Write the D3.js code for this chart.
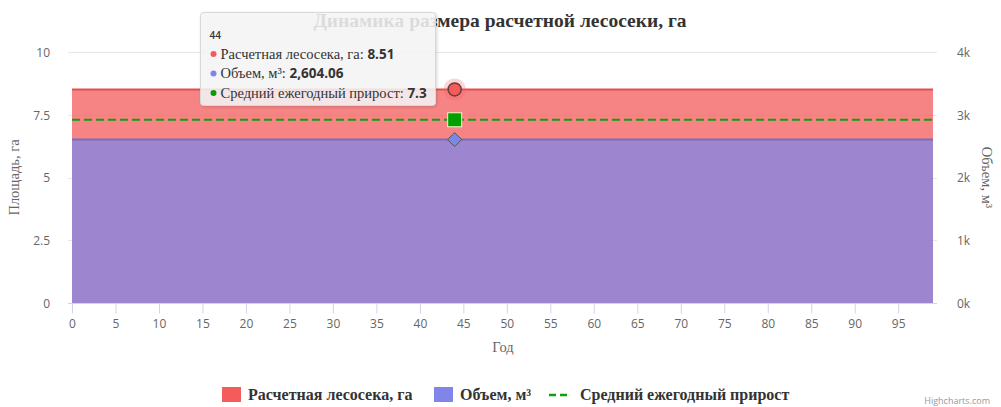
<!DOCTYPE html>
<html>
<head>
<meta charset="utf-8">
<script src="https://cdn.jsdelivr.net/npm/d3@7"></script>
<style>
  html, body { margin: 0; padding: 0; background: #fff; }
  svg { display: block; }
</style>
</head>
<body>
<div id="chart"></div>
<script>
// ---------------- DATA ----------------
const title = "Динамика размера расчетной лесосеки, га";
const years = [
  0,1,2,3,4,5,6,7,8,9,10,11,12,13,14,15,16,17,18,19,
  20,21,22,23,24,25,26,27,28,29,30,31,32,33,34,35,36,37,38,39,
  40,41,42,43,44,45,46,47,48,49,50,51,52,53,54,55,56,57,58,59,
  60,61,62,63,64,65,66,67,68,69,70,71,72,73,74,75,76,77,78,79,
  80,81,82,83,84,85,86,87,88,89,90,91,92,93,94,95,96,97,98,99
];
const lesoseka = [
  8.51,8.51,8.51,8.51,8.51,8.51,8.51,8.51,8.51,8.51,8.51,8.51,8.51,8.51,8.51,8.51,8.51,8.51,8.51,8.51,
  8.51,8.51,8.51,8.51,8.51,8.51,8.51,8.51,8.51,8.51,8.51,8.51,8.51,8.51,8.51,8.51,8.51,8.51,8.51,8.51,
  8.51,8.51,8.51,8.51,8.51,8.51,8.51,8.51,8.51,8.51,8.51,8.51,8.51,8.51,8.51,8.51,8.51,8.51,8.51,8.51,
  8.51,8.51,8.51,8.51,8.51,8.51,8.51,8.51,8.51,8.51,8.51,8.51,8.51,8.51,8.51,8.51,8.51,8.51,8.51,8.51,
  8.51,8.51,8.51,8.51,8.51,8.51,8.51,8.51,8.51,8.51,8.51,8.51,8.51,8.51,8.51,8.51,8.51,8.51,8.51,8.51
];
const volume = [
  2604.06,2604.06,2604.06,2604.06,2604.06,2604.06,2604.06,2604.06,2604.06,2604.06,
  2604.06,2604.06,2604.06,2604.06,2604.06,2604.06,2604.06,2604.06,2604.06,2604.06,
  2604.06,2604.06,2604.06,2604.06,2604.06,2604.06,2604.06,2604.06,2604.06,2604.06,
  2604.06,2604.06,2604.06,2604.06,2604.06,2604.06,2604.06,2604.06,2604.06,2604.06,
  2604.06,2604.06,2604.06,2604.06,2604.06,2604.06,2604.06,2604.06,2604.06,2604.06,
  2604.06,2604.06,2604.06,2604.06,2604.06,2604.06,2604.06,2604.06,2604.06,2604.06,
  2604.06,2604.06,2604.06,2604.06,2604.06,2604.06,2604.06,2604.06,2604.06,2604.06,
  2604.06,2604.06,2604.06,2604.06,2604.06,2604.06,2604.06,2604.06,2604.06,2604.06,
  2604.06,2604.06,2604.06,2604.06,2604.06,2604.06,2604.06,2604.06,2604.06,2604.06,
  2604.06,2604.06,2604.06,2604.06,2604.06,2604.06,2604.06,2604.06,2604.06,2604.06
];
const prirost = [
  7.3,7.3,7.3,7.3,7.3,7.3,7.3,7.3,7.3,7.3,7.3,7.3,7.3,7.3,7.3,7.3,7.3,7.3,7.3,7.3,
  7.3,7.3,7.3,7.3,7.3,7.3,7.3,7.3,7.3,7.3,7.3,7.3,7.3,7.3,7.3,7.3,7.3,7.3,7.3,7.3,
  7.3,7.3,7.3,7.3,7.3,7.3,7.3,7.3,7.3,7.3,7.3,7.3,7.3,7.3,7.3,7.3,7.3,7.3,7.3,7.3,
  7.3,7.3,7.3,7.3,7.3,7.3,7.3,7.3,7.3,7.3,7.3,7.3,7.3,7.3,7.3,7.3,7.3,7.3,7.3,7.3,
  7.3,7.3,7.3,7.3,7.3,7.3,7.3,7.3,7.3,7.3,7.3,7.3,7.3,7.3,7.3,7.3,7.3,7.3,7.3,7.3
];
const seriesNames = ["Расчетная лесосека, га", "Объем, м³", "Средний ежегодный прирост"];
const seriesColors = ["#f45b5b", "#8085e9", "#0ea00e"];
const xTicks = [0,5,10,15,20,25,30,35,40,45,50,55,60,65,70,75,80,85,90,95];
const yLeftTicks = [0, 2.5, 5, 7.5, 10];
const yRightTicks = [0, 1000, 2000, 3000, 4000];
const yRightTickLabels = ["0k", "1k", "2k", "3k", "4k"];
const xTitle = "Год";
const yLeftTitle = "Площадь, га";
const yRightTitle = "Объем, м³";
const hoverIndex = 44;
const credits = "Highcharts.com";

// ---------------- LAYOUT ----------------
const W = 1001, H = 407;
const plotL = 68, plotR = 937, plotT = 52, plotB = 303;
const serif = "'Liberation Serif', 'Times New Roman', serif";
const sans = "'Open Sans', 'Noto Sans', sans-serif";

const svg = d3.select("#chart").append("svg")
  .attr("width", W).attr("height", H);

const defs = svg.append("defs");
const f = defs.append("filter").attr("id", "shadow")
  .attr("x", "-10%").attr("y", "-10%").attr("width", "130%").attr("height", "140%");
f.append("feDropShadow").attr("dx", 1).attr("dy", 1).attr("stdDeviation", 1.5)
  .attr("flood-color", "#000").attr("flood-opacity", 0.18);

const x = d3.scaleLinear().domain([0, 99]).range([72, 933]);
const yL = d3.scaleLinear().domain([0, 10]).range([plotB, plotT]);
const yR = d3.scaleLinear().domain([0, 4000]).range([plotB, plotT]);

// Title
svg.append("text")
  .attr("x", 500).attr("y", 27)
  .attr("text-anchor", "middle")
  .attr("font-family", serif).attr("font-weight", "bold")
  .attr("font-size", 19.5).attr("fill", "#333")
  .text(title);

// Grid lines
svg.append("g").selectAll("line").data(yLeftTicks).join("line")
  .attr("x1", plotL).attr("x2", plotR)
  .attr("y1", d => Math.round(yL(d)) + 0.5).attr("y2", d => Math.round(yL(d)) + 0.5)
  .attr("stroke", "#e6e6e6").attr("stroke-width", 1);

// Areas
const rows = years.map((yr, i) => ({ x: yr, a: lesoseka[i], v: volume[i], p: prirost[i] }));

const areaRed = d3.area().x(d => x(d.x)).y0(yL(0)).y1(d => yL(d.a));
const lineRed = d3.line().x(d => x(d.x)).y(d => yL(d.a));
const areaBlue = d3.area().x(d => x(d.x)).y0(yR(0)).y1(d => yR(d.v));
const lineBlue = d3.line().x(d => x(d.x)).y(d => yR(d.v));
const lineGreen = d3.line().x(d => x(d.x)).y(d => yL(d.p));

svg.append("path").datum(rows).attr("d", areaRed)
  .attr("fill", seriesColors[0]).attr("fill-opacity", 0.75);
svg.append("path").datum(rows).attr("d", lineRed)
  .attr("fill", "none").attr("stroke", "#e45050").attr("stroke-width", 2);

svg.append("path").datum(rows).attr("d", areaBlue)
  .attr("fill", seriesColors[1]).attr("fill-opacity", 0.75);
svg.append("path").datum(rows).attr("d", lineBlue)
  .attr("fill", "none").attr("stroke", "#7e6cb4").attr("stroke-width", 2);

svg.append("path").datum(rows).attr("d", lineGreen)
  .attr("fill", "none").attr("stroke", seriesColors[2]).attr("stroke-width", 2)
  .attr("stroke-dasharray", "8,4");

// X axis
const xAxis = d3.axisBottom(x).tickValues(xTicks).tickSize(10).tickPadding(6).tickSizeOuter(0);
const gx = svg.append("g").attr("transform", `translate(0,${plotB + 0.5})`).call(xAxis);
gx.select(".domain").remove();
gx.append("line").attr("x1", plotL).attr("x2", plotR).attr("y1", 0).attr("y2", 0)
  .attr("stroke", "#ccd6eb");
gx.selectAll(".tick line").attr("stroke", "#ccd6eb");
gx.selectAll(".tick text").attr("font-family", sans).attr("font-size", 12).attr("fill", "#666");

// Left axis
const yAxisL = d3.axisLeft(yL).tickValues(yLeftTicks).tickSize(0).tickPadding(0)
  .tickFormat(d3.format("~g"));
const gyl = svg.append("g").attr("transform", `translate(50,0)`).call(yAxisL);
gyl.select(".domain").remove();
gyl.selectAll(".tick text").attr("font-family", sans).attr("font-size", 12).attr("fill", "#666")
  .attr("dy", "0.36em");

// Right axis
const yAxisR = d3.axisRight(yR).tickValues(yRightTicks).tickSize(0).tickPadding(0)
  .tickFormat((d, i) => yRightTickLabels[i]);
const gyr = svg.append("g").attr("transform", `translate(957,0)`).call(yAxisR);
gyr.select(".domain").remove();
gyr.selectAll(".tick text").attr("font-family", sans).attr("font-size", 12).attr("fill", "#666")
  .attr("dy", "0.36em");

// Axis titles
svg.append("text").attr("x", 503).attr("y", 352).attr("text-anchor", "middle")
  .attr("font-family", serif).attr("font-size", 14.5).attr("fill", "#666").text(xTitle);
svg.append("text").attr("transform", `translate(19,${(plotT + plotB) / 2}) rotate(-90)`)
  .attr("text-anchor", "middle")
  .attr("font-family", serif).attr("font-size", 14.5).attr("fill", "#666").text(yLeftTitle);
svg.append("text").attr("transform", `translate(982,${(plotT + plotB) / 2}) rotate(90)`)
  .attr("text-anchor", "middle")
  .attr("font-family", serif).attr("font-size", 14.5).attr("fill", "#666").text(yRightTitle);

// Hover markers
const hi = years.indexOf(hoverIndex);
const hx = x(years[hi]);
svg.append("circle").attr("cx", hx).attr("cy", yL(lesoseka[hi])).attr("r", 11)
  .attr("fill", seriesColors[0]).attr("fill-opacity", 0.25);
svg.append("circle").attr("cx", hx).attr("cy", yL(lesoseka[hi])).attr("r", 6.5)
  .attr("fill", seriesColors[0]).attr("stroke", "#6b3b3b").attr("stroke-width", 1.5);
const dy = yR(volume[hi]);
svg.append("path")
  .attr("d", `M${hx},${dy - 7}L${hx + 7},${dy}L${hx},${dy + 7}L${hx - 7},${dy}Z`)
  .attr("fill", seriesColors[1]).attr("stroke", "#555").attr("stroke-width", 1);
const gy = yL(prirost[hi]);
svg.append("rect").attr("x", hx - 7).attr("y", gy - 7).attr("width", 14).attr("height", 14)
  .attr("fill", "#00a000").attr("stroke", "#f2f7c8").attr("stroke-width", 1);

// Legend (symbols at fixed x positions)
const legendX = [222, 434, 549];
const legend = svg.append("g").attr("transform", "translate(0,395)");
seriesNames.forEach((name, i) => {
  const g = legend.append("g").attr("transform", `translate(${legendX[i]},0)`);
  if (i < 2) {
    g.append("rect").attr("x", 0).attr("y", -8).attr("width", 19).attr("height", 15)
      .attr("fill", seriesColors[i]);
  } else {
    g.append("line").attr("x1", 0).attr("x2", 21).attr("y1", 0).attr("y2", 0)
      .attr("stroke", seriesColors[2]).attr("stroke-width", 2.5).attr("stroke-dasharray", "7,4");
  }
  g.append("text").attr("x", i < 2 ? 26 : 31).attr("y", 5)
    .attr("font-family", serif).attr("font-weight", "bold").attr("font-size", 16)
    .attr("fill", "#333").text(name);
});

// Credits
svg.append("text").attr("x", 990).attr("y", 404).attr("text-anchor", "end")
  .attr("font-family", sans).attr("font-size", 9).attr("fill", "#999").text(credits);

// Tooltip
const tip = svg.append("g").attr("transform", "translate(200.5,12.5)");
tip.append("rect").attr("width", 235).attr("height", 93).attr("rx", 3)
  .attr("fill", "rgba(247,247,247,0.85)").attr("stroke", "#d8d8d8").attr("stroke-width", 1)
  .attr("filter", "url(#shadow)");
tip.append("text").attr("x", 9).attr("y", 26)
  .attr("font-family", sans).attr("font-size", 10).attr("font-weight", 600).attr("fill", "#333")
  .text(String(years[hi]));
const tipValues = [d3.format(".2f")(lesoseka[hi]), d3.format(",.2f")(volume[hi]), String(prirost[hi])];
seriesNames.forEach((name, i) => {
  const ty = 46 + i * 19.5;
  tip.append("circle").attr("cx", 13).attr("cy", ty - 4.5).attr("r", 3)
    .attr("fill", i === 2 ? "#0a9a0a" : seriesColors[i]);
  const t = tip.append("text").attr("x", 20).attr("y", ty)
    .attr("font-family", serif).attr("font-size", 14.5).attr("fill", "#333");
  t.append("tspan").text(name + ": ");
  t.append("tspan").attr("font-family", sans).attr("font-weight", "bold").attr("font-size", 13.5)
    .text(tipValues[i]);
});
</script>
</body>
</html>
